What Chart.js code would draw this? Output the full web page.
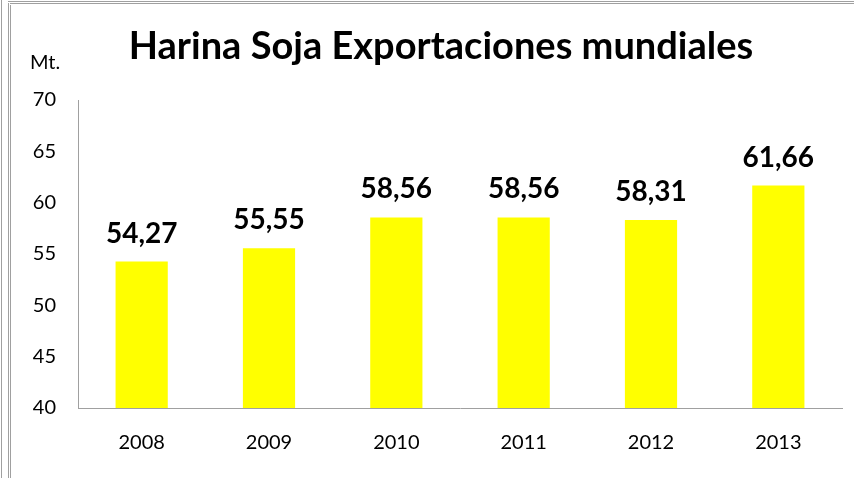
<!DOCTYPE html>
<html>
<head>
<meta charset="utf-8">
<script src="https://cdn.jsdelivr.net/npm/chart.js@4"></script>
<style>
  html, body { margin: 0; padding: 0; background: #fff; }
  #wrap { width: 854px; height: 478px; position: relative; }
</style>
</head>
<body>
<div id="wrap"><canvas id="sojaChart" width="854" height="478"></canvas></div>
<script>
// Soybean meal world exports, million tonnes
const years = ["2008", "2009", "2010", "2011", "2012", "2013"];
const exports = [54.27, 55.55, 58.56, 58.56, 58.31, 61.66];
const yTicks = [40, 45, 50, 55, 60, 65, 70];

const FONT = "Lato, 'Open Sans', sans-serif";

// frame lines, title and the "Mt." unit
const frame = {
  id: "frame",
  beforeDraw(chart) {
    const ctx = chart.ctx;
    ctx.save();
    ctx.strokeStyle = "#a0a0a0";
    ctx.lineWidth = 1;
    ctx.beginPath();
    ctx.moveTo(1.5, 0); ctx.lineTo(1.5, 478);
    ctx.moveTo(8.5, 3); ctx.lineTo(8.5, 478);
    ctx.moveTo(10.5, 5); ctx.lineTo(10.5, 478);
    ctx.moveTo(8, 1.5); ctx.lineTo(854, 1.5);
    ctx.moveTo(10, 3.5); ctx.lineTo(854, 3.5);
    ctx.stroke();
    ctx.fillStyle = "#000";
    ctx.textBaseline = "middle";
    ctx.font = "20px " + FONT;
    ctx.fillText("Mt.", 30, 63);
    ctx.font = "bold 38px " + FONT;
    ctx.textAlign = "center";
    ctx.fillText("Harina Soja Exportaciones mundiales", 441, 47);
    ctx.restore();
  }
};

// value labels above bars, decimal comma
const valueLabels = {
  id: "valueLabels",
  afterDatasetsDraw(chart) {
    const ctx = chart.ctx;
    const meta = chart.getDatasetMeta(0);
    ctx.save();
    ctx.fillStyle = "#000";
    ctx.font = "bold 28px " + FONT;
    ctx.textAlign = "center";
    ctx.textBaseline = "bottom";
    meta.data.forEach((bar, i) => {
      ctx.fillText(exports[i].toFixed(2).replace(".", ","), bar.x, bar.y - 14);
    });
    ctx.restore();
  }
};

new Chart(document.getElementById("sojaChart"), {
  type: "bar",
  data: {
    labels: years,
    datasets: [{
      data: exports,
      backgroundColor: "#ffff00",
      categoryPercentage: 1,
      barPercentage: 0.41
    }]
  },
  options: {
    responsive: false,
    animation: false,
    layout: { padding: { left: 12, right: 12, top: 100, bottom: 0 } },
    plugins: {
      legend: { display: false },
      tooltip: { enabled: false }
    },
    scales: {
      x: {
        afterFit(s) { s.height = 70; },
        grid: { display: false, drawTicks: false },
        border: { color: "#a0a0a0" },
        ticks: { color: "#000", font: { family: FONT, size: 20 }, padding: 23 }
      },
      y: {
        min: 40,
        max: 70,
        afterFit(s) { s.width = 66; },
        afterBuildTicks(s) { s.ticks = yTicks.map(v => ({ value: v })); },
        grid: { display: false, drawTicks: false },
        border: { color: "#a0a0a0" },
        ticks: { color: "#000", font: { family: FONT, size: 20 }, padding: 22 }
      }
    }
  },
  plugins: [frame, valueLabels]
});
</script>
</body>
</html>
